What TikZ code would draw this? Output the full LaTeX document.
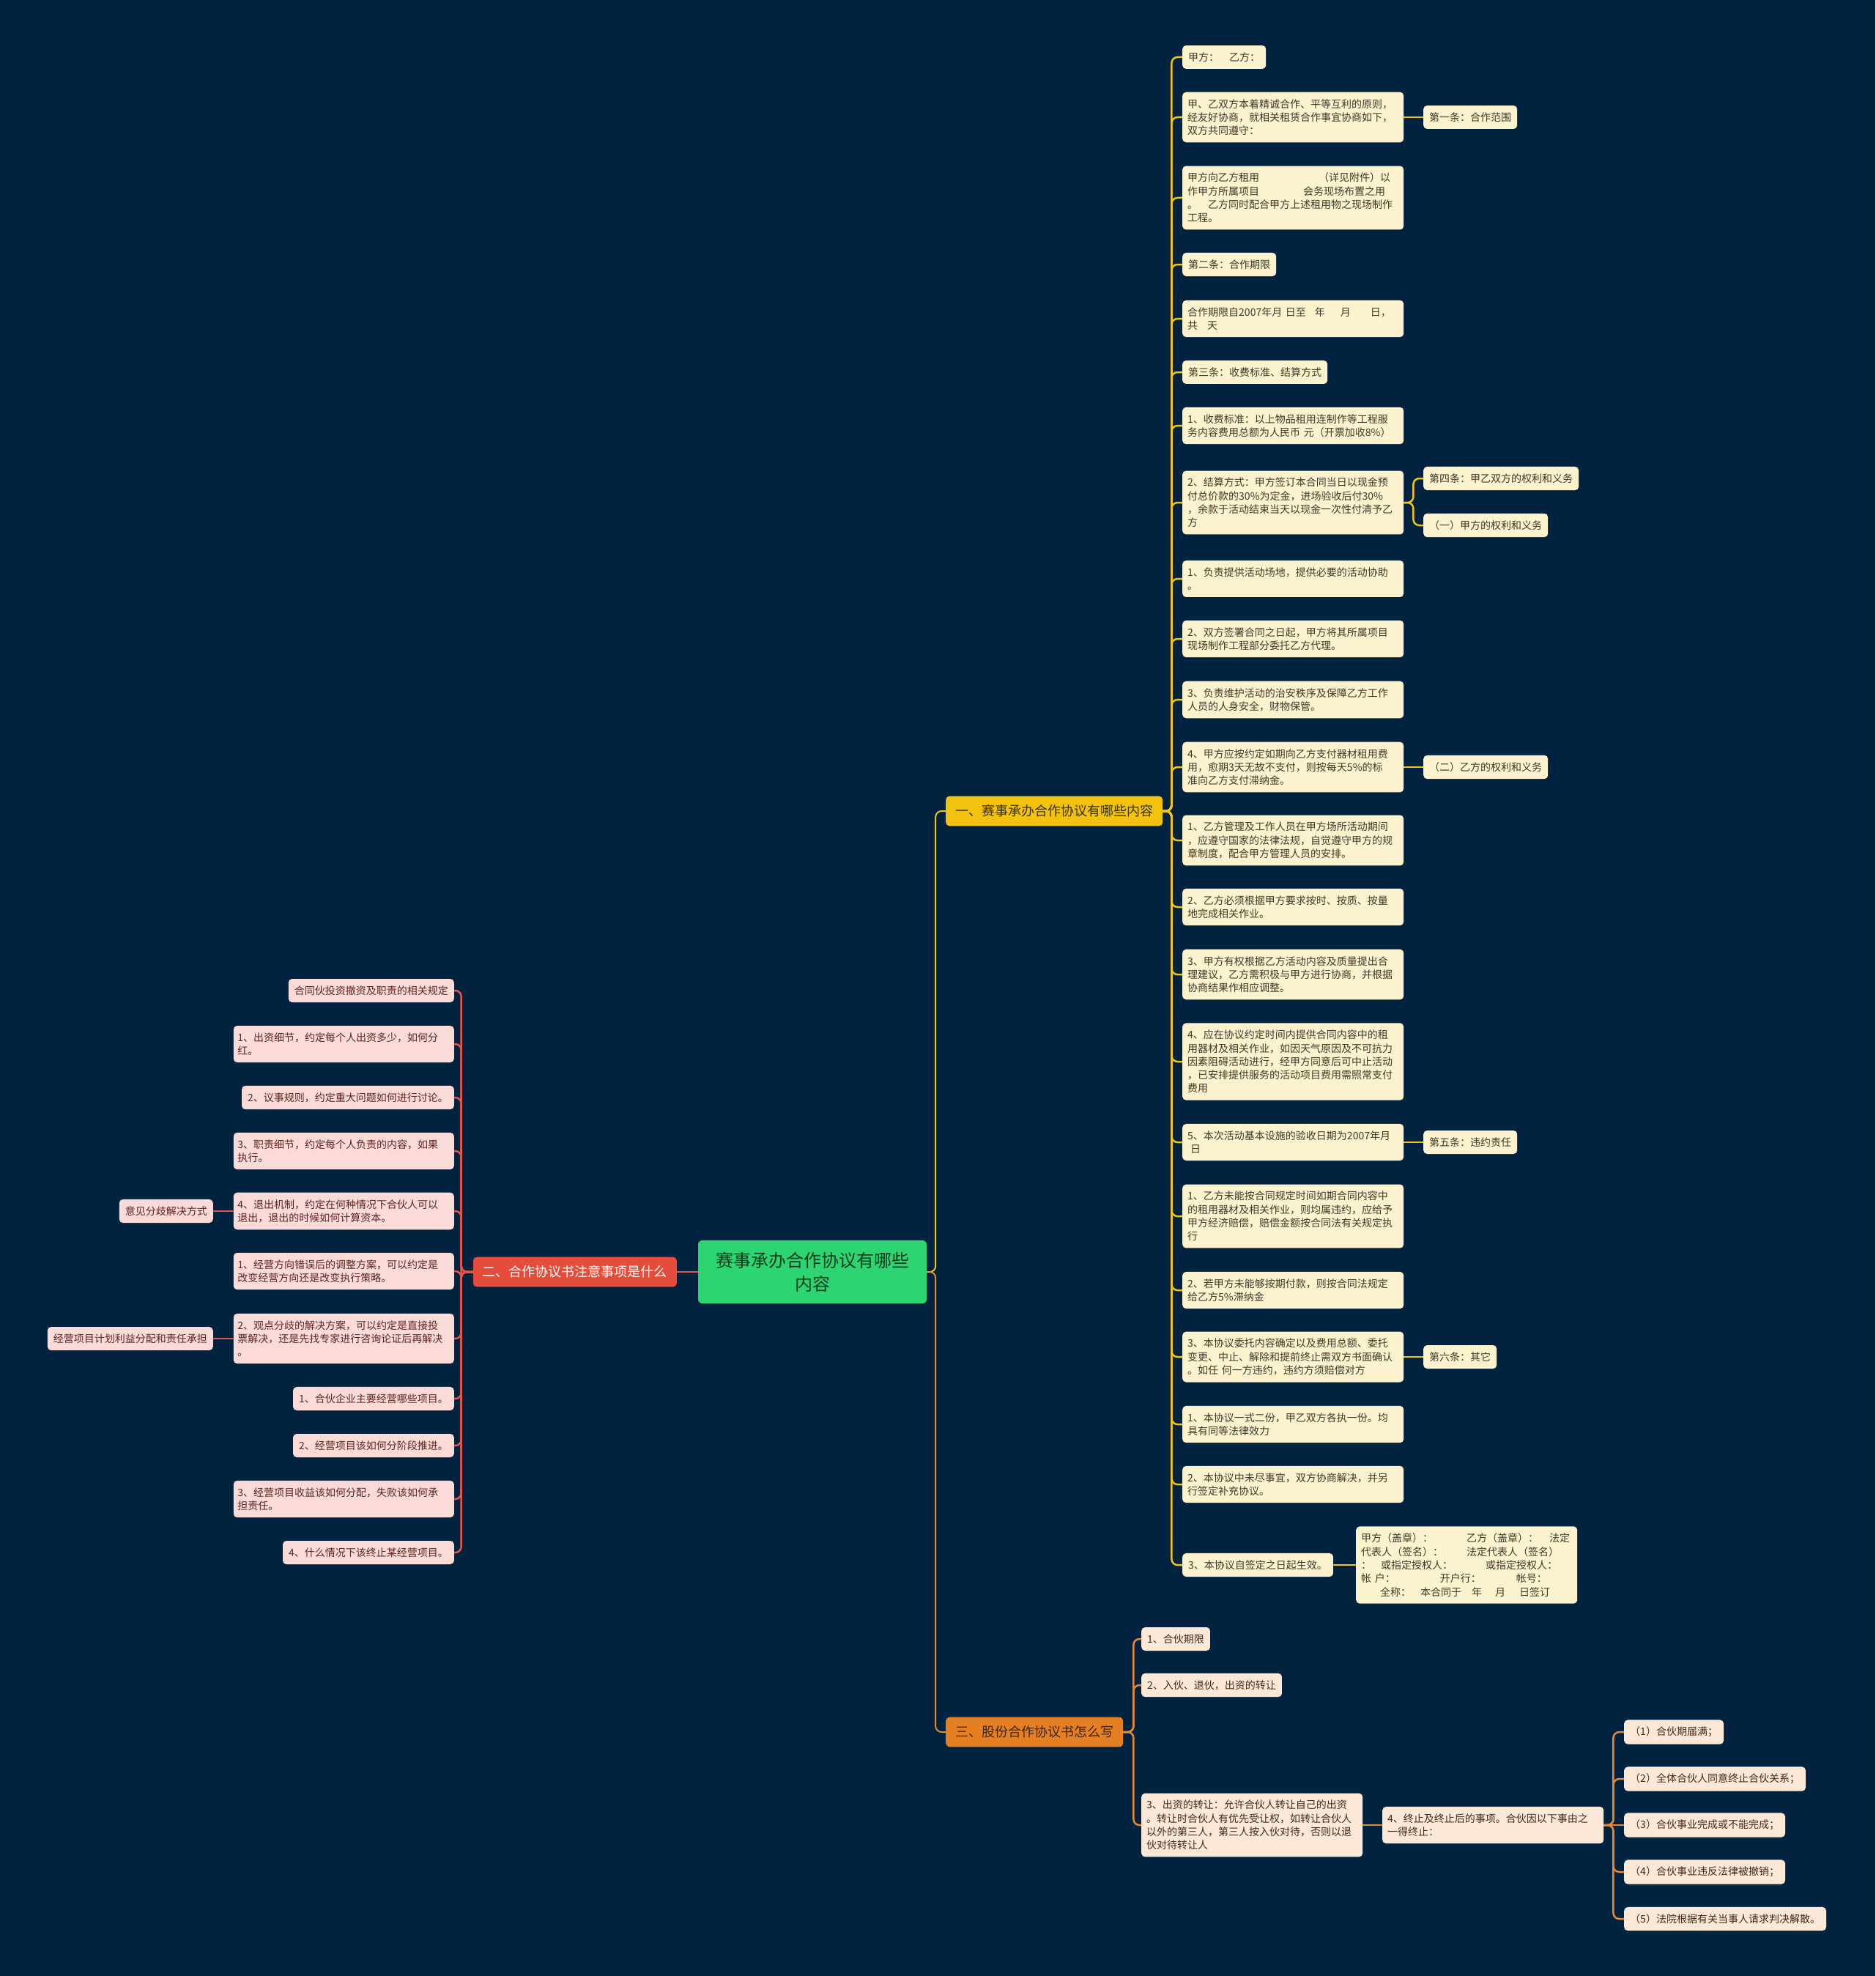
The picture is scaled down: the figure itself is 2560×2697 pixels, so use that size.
\documentclass[tikz,border=0pt]{standalone}
\usepackage{fontspec}
\setmainfont{Noto Sans CJK SC}
\definecolor{bg}{HTML}{022340}
\definecolor{ycream}{HTML}{FCF2CE}
\definecolor{ytext}{HTML}{3B3A2A}
\definecolor{ylinec}{HTML}{EFC41B}
\definecolor{ybranch}{HTML}{F2C20F}
\definecolor{ybtext}{HTML}{3A3205}
\definecolor{rpink}{HTML}{FBDBD7}
\definecolor{rtext}{HTML}{5E2420}
\definecolor{rlinec}{HTML}{E2574C}
\definecolor{rbranch}{HTML}{E64C3C}
\definecolor{opeach}{HTML}{FCE8D6}
\definecolor{otext}{HTML}{3D2B1C}
\definecolor{olinec}{HTML}{E58A33}
\definecolor{obranch}{HTML}{E67E22}
\definecolor{obtext}{HTML}{3E2612}
\definecolor{cfill}{HTML}{2DD472}
\definecolor{ctext}{HTML}{0D3B20}
\newcommand\fsmall{\fontsize{14pt}{18.3pt}\selectfont}
\newcommand\fbranch{\fontsize{18pt}{22pt}\selectfont}
\newcommand\fcenter{\fontsize{24pt}{32pt}\selectfont}
\tikzset{
  leaf/.style={rounded corners=5pt, inner xsep=8pt, inner ysep=9.5pt, font=\fsmall, align=left},
  wide/.style={text width=288pt, inner xsep=7pt},
  lwide/.style={text width=290pt, inner xsep=5.5pt},
  yleaf/.style={leaf, fill=ycream, text=ytext},
  rleaf/.style={leaf, fill=rpink, text=rtext},
  oleaf/.style={leaf, fill=opeach, text=otext},
  branch/.style={rounded corners=5pt, inner xsep=13pt, inner ysep=12pt, font=\fbranch},
  centerbox/.style={rounded corners=6pt, fill=cfill, text=ctext, font=\fcenter, align=center, inner xsep=24pt, inner ysep=16pt},
  yl/.style={draw=ylinec, line width=2.5pt, rounded corners=8pt},
  rl/.style={draw=rlinec, line width=2.5pt, rounded corners=8pt},
  ol/.style={draw=olinec, line width=2.5pt, rounded corners=8pt},
}
\begin{document}
\begin{tikzpicture}[x=1pt,y=-1pt]
\fill[bg] (0,0) rectangle (2560,2697);
\useasboundingbox (0,0) rectangle (2560,2697);

% center and branches
\node[centerbox] (c) at (1109,1736) {赛事承办合作协议有哪些\\内容};
\node[branch, fill=ybranch, text=ybtext, anchor=west] (one) at (1291,1107) {一、赛事承办合作协议有哪些内容};
\node[branch, fill=rbranch, text=white, anchor=east] (two) at (924,1736) {二、合作协议书注意事项是什么};
\node[branch, fill=obranch, text=obtext, anchor=west] (three) at (1291,2364) {三、股份合作协议书怎么写};

% right children
\node[yleaf, anchor=west] (r1) at (1614,78) {甲方：\hspace{14pt}乙方：};
\node[yleaf, wide, anchor=west] (r2) at (1614,160) {甲、乙双方本着精诚合作、平等互利的原则，\\经友好协商，就相关租赁合作事宜协商如下，\\双方共同遵守：};
\node[yleaf, wide, anchor=west] (r3) at (1614,270) {甲方向乙方租用\hspace{81pt}（详见附件）以\\作甲方所属项目\hspace{60pt}会务现场布置之用\\。\hspace{14pt}乙方同时配合甲方上述租用物之现场制作\\工程。};
\node[yleaf, anchor=west] (r4) at (1614,361) {第二条：合作期限};
\node[yleaf, wide, anchor=west] (r5) at (1614,435) {合作期限自2007年月 日至\hspace{12pt}年\hspace{21pt}月\hspace{27pt}日，\\共\hspace{13pt}天};
\node[yleaf, anchor=west] (r6) at (1614,508) {第三条：收费标准、结算方式};
\node[yleaf, wide, anchor=west] (r7) at (1614,581) {1、收费标准：以上物品租用连制作等工程服\\务内容费用总额为人民币 元（开票加收8\%）};
\node[yleaf, wide, anchor=west] (r8) at (1614,686) {2、结算方式：甲方签订本合同当日以现金预\\付总价款的30\%为定金，进场验收后付30\%\\，余款于活动结束当天以现金一次性付清予乙\\方};
\node[yleaf, wide, anchor=west] (r9) at (1614,790) {1、负责提供活动场地，提供必要的活动协助\\。};
\node[yleaf, wide, anchor=west] (r10) at (1614,872) {2、双方签署合同之日起，甲方将其所属项目\\现场制作工程部分委托乙方代理。};
\node[yleaf, wide, anchor=west] (r11) at (1614,955) {3、负责维护活动的治安秩序及保障乙方工作\\人员的人身安全，财物保管。};
\node[yleaf, wide, anchor=west] (r12) at (1614,1047) {4、甲方应按约定如期向乙方支付器材租用费\\用，愈期3天无故不支付，则按每天5\%的标\\准向乙方支付滞纳金。};
\node[yleaf, wide, anchor=west] (r13) at (1614,1147) {1、乙方管理及工作人员在甲方场所活动期间\\，应遵守国家的法律法规，自觉遵守甲方的规\\章制度，配合甲方管理人员的安排。};
\node[yleaf, wide, anchor=west] (r14) at (1614,1238) {2、乙方必须根据甲方要求按时、按质、按量\\地完成相关作业。};
\node[yleaf, wide, anchor=west] (r15) at (1614,1330) {3、甲方有权根据乙方活动内容及质量提出合\\理建议，乙方需积极与甲方进行协商，并根据\\协商结果作相应调整。};
\node[yleaf, wide, anchor=west] (r16) at (1614,1449) {4、应在协议约定时间内提供合同内容中的租\\用器材及相关作业，如因天气原因及不可抗力\\因素阻碍活动进行，经甲方同意后可中止活动\\，已安排提供服务的活动项目费用需照常支付\\费用};
\node[yleaf, wide, anchor=west] (r17) at (1614,1559) {5、本次活动基本设施的验收日期为2007年月\\\hspace*{4pt}日};
\node[yleaf, wide, anchor=west] (r18) at (1614,1660) {1、乙方未能按合同规定时间如期合同内容中\\的租用器材及相关作业，则均属违约，应给予\\甲方经济赔偿，赔偿金额按合同法有关规定执\\行};
\node[yleaf, wide, anchor=west] (r19) at (1614,1761) {2、若甲方未能够按期付款，则按合同法规定\\给乙方5\%滞纳金};
\node[yleaf, wide, anchor=west] (r20) at (1614,1852) {3、本协议委托内容确定以及费用总额、委托\\变更、中止、解除和提前终止需双方书面确认\\。如任 何一方违约，违约方须赔偿对方};
\node[yleaf, wide, anchor=west] (r21) at (1614,1944) {1、本协议一式二份，甲乙双方各执一份。均\\具有同等法律效力};
\node[yleaf, wide, anchor=west] (r22) at (1614,2026) {2、本协议中未尽事宜，双方协商解决，并另\\行签定补充协议。};
\node[yleaf, anchor=west] (r23) at (1614,2136) {3、本协议自签定之日起生效。};

% right grandchildren
\node[yleaf, anchor=west] (g1) at (1943,160) {第一条：合作范围};
\node[yleaf, anchor=west] (g2) at (1943,653) {第四条：甲乙双方的权利和义务};
\node[yleaf, anchor=west] (g3) at (1943,717) {（一）甲方的权利和义务};
\node[yleaf, anchor=west] (g4) at (1943,1047) {（二）乙方的权利和义务};
\node[yleaf, anchor=west] (g5) at (1943,1559) {第五条：违约责任};
\node[yleaf, anchor=west] (g6) at (1943,1852) {第六条：其它};
\node[yleaf, wide, anchor=west] (g7) at (1851,2136) {甲方（盖章）：\hspace{46pt}乙方（盖章）：\hspace{15pt}法定\\代表人（签名）：\hspace{32pt}法定代表人（签名）\\：\hspace{13pt}或指定授权人：\hspace{45pt}或指定授权人：\\帐 户：\hspace{61pt}开户行：\hspace{48pt}帐号：\\\hspace*{26pt}全称：\hspace{13pt}本合同于\hspace{14pt}年\hspace{18pt}月\hspace{19pt}日签订};

% left children
\node[rleaf, anchor=east] (l1) at (620,1352) {合同伙投资撤资及职责的相关规定};
\node[rleaf, lwide, anchor=east] (l2) at (620,1425) {1、出资细节，约定每个人出资多少，如何分\\红。};
\node[rleaf, anchor=east] (l3) at (620,1498) {2、议事规则，约定重大问题如何进行讨论。};
\node[rleaf, lwide, anchor=east] (l4) at (620,1571) {3、职责细节，约定每个人负责的内容，如果\\执行。};
\node[rleaf, lwide, anchor=east] (l5) at (620,1653) {4、退出机制，约定在何种情况下合伙人可以\\退出，退出的时候如何计算资本。};
\node[rleaf, lwide, anchor=east] (l6) at (620,1735) {1、经营方向错误后的调整方案，可以约定是\\改变经营方向还是改变执行策略。};
\node[rleaf, lwide, anchor=east] (l7) at (620,1827) {2、观点分歧的解决方案，可以约定是直接投\\票解决，还是先找专家进行咨询论证后再解决\\。};
\node[rleaf, anchor=east] (l8) at (620,1909) {1、合伙企业主要经营哪些项目。};
\node[rleaf, anchor=east] (l9) at (620,1973) {2、经营项目该如何分阶段推进。};
\node[rleaf, lwide, anchor=east] (l10) at (620,2046) {3、经营项目收益该如何分配，失败该如何承\\担责任。};
\node[rleaf, anchor=east] (l11) at (620,2119) {4、什么情况下该终止某经营项目。};
\node[rleaf, anchor=east] (lg1) at (291,1653) {意见分歧解决方式};
\node[rleaf, anchor=east] (lg2) at (291,1827) {经营项目计划利益分配和责任承担};

% bottom children
\node[oleaf, anchor=west] (b1) at (1558,2237) {1、合伙期限};
\node[oleaf, anchor=west] (b2) at (1558,2300) {2、入伙、退伙，出资的转让};
\node[oleaf, wide, anchor=west] (b3) at (1558,2491) {3、出资的转让：允许合伙人转让自己的出资\\。转让时合伙人有优先受让权，如转让合伙人\\以外的第三人，第三人按入伙对待，否则以退\\伙对待转让人};
\node[oleaf, wide, anchor=west] (b4) at (1887,2491) {4、终止及终止后的事项。合伙因以下事由之\\一得终止：};
\node[oleaf, anchor=west] (bb1) at (2217,2364) {（1）合伙期届满；};
\node[oleaf, anchor=west] (bb2) at (2217,2428) {（2）全体合伙人同意终止合伙关系；};
\node[oleaf, anchor=west] (bb3) at (2217,2491) {（3）合伙事业完成或不能完成；};
\node[oleaf, anchor=west] (bb4) at (2217,2555) {（4）合伙事业违反法律被撤销；};
\node[oleaf, anchor=west] (bb5) at (2217,2619) {（5）法院根据有关当事人请求判决解散。};

% connectors: center to branches
\draw[yl, line width=2pt] (c.east) -- ++(12,0) |- (one.west);
\draw[ol, line width=2pt] (c.east) -- ++(12,0) |- (three.west);
\draw[rl, line width=2pt] (c.west) -- (two.east);

% right trunk
\foreach \i in {1,...,23} {\draw[yl] (one.east) -- ++(12,0) |- (r\i.west);}
\draw[yl] (r2.east) -- (g1.west);
\draw[yl] (r8.east) -- ++(13,0) |- (g2.west);
\draw[yl] (r8.east) -- ++(13,0) |- (g3.west);
\draw[yl] (r12.east) -- (g4.west);
\draw[yl] (r17.east) -- (g5.west);
\draw[yl] (r20.east) -- (g6.west);
\draw[yl] (r23.east) -- (g7.west);

% left trunk
\foreach \i in {1,...,11} {\draw[rl] (two.west) -- ++(-16,0) |- (l\i.east);}
\draw[rl] (l5.west) -- (lg1.east);
\draw[rl] (l7.west) -- (lg2.east);

% bottom
\foreach \i in {1,2,3} {\draw[ol] (three.east) -- ++(14,0) |- (b\i.west);}
\draw[ol] (b3.east) -- (b4.west);
\foreach \i in {1,2,4,5} {\draw[ol] (b4.east) -- ++(13,0) |- (bb\i.west);}
\draw[ol] (b4.east) -- (bb3.west);
\end{tikzpicture}
\end{document}
